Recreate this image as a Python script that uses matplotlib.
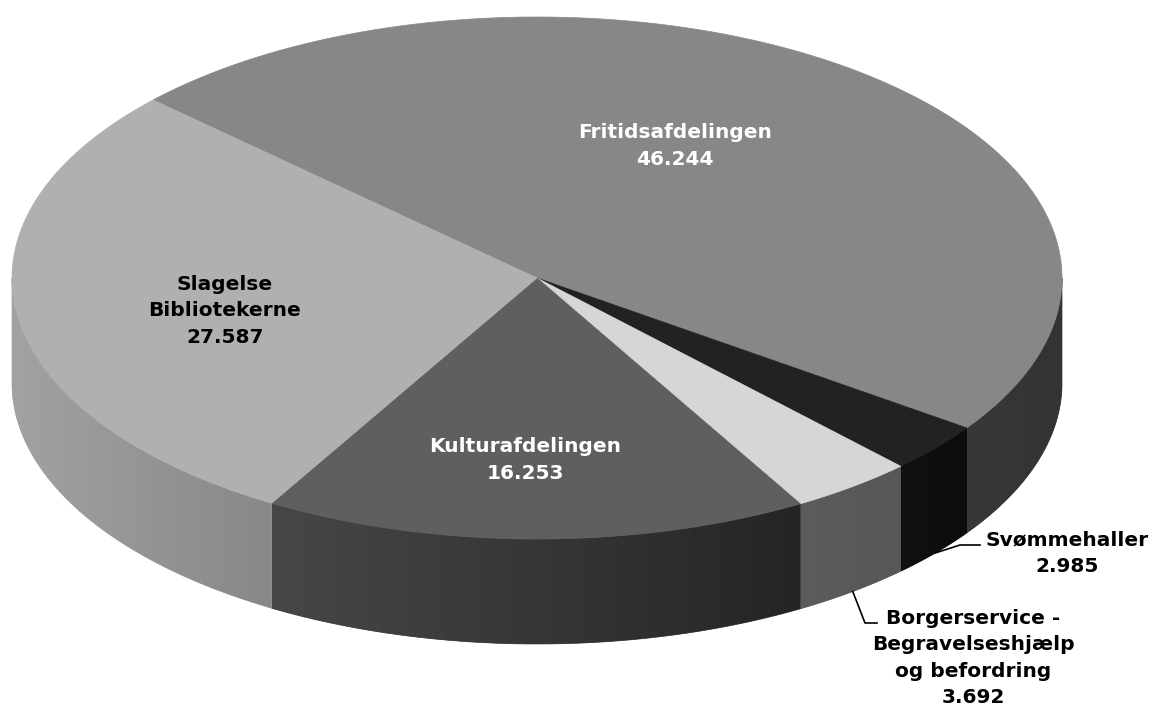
import numpy as np
import matplotlib.pyplot as plt
from matplotlib.patches import Polygon
from matplotlib.colors import LinearSegmentedColormap

# data (in clockwise order, starting at the upper-left edge)
names = ["Fritidsafdelingen", "Svømmehaller",
         "Borgerservice -\nBegravelseshjælp\nog befordring",
         "Kulturafdelingen", "Slagelse\nBibliotekerne"]
values = [46.244, 2.985, 3.692, 16.253, 27.587]
value_labels = ["46.244", "2.985", "3.692", "16.253", "27.587"]

top_colors = ["#878787", "#222222", "#d6d6d6", "#5f5f5f", "#b0b0b0"]
wall_colors = [("#383838", "#333333"), ("#111111", "#0c0c0c"),
               ("#5c5c5c", "#575757"), ("#474747", "#252525"),
               ("#a2a2a2", "#888888")]
text_colors = ["white", "black", "black", "white", "black"]

# layout (pixels)
cx, cy = 537, 278
rx, ry = 525, 261
depth = 105
start_angle = 137.0
label_pos = {0: (675, 146), 3: (525, 460), 4: (225, 311)}
# elbow of the leader line, end of leader, text centre
outside = {1: ((960, 545), 980, (1067, 553)),
           2: ((865, 623), 877, (973, 658))}

fig = plt.figure(figsize=(11.58, 7.06), dpi=100)
ax = fig.add_axes([0, 0, 1, 1])
ax.axis("off")

total = sum(values)
cum = np.concatenate([[0], np.cumsum(values)])
a_start = start_angle - 360 * cum[:-1] / total
a_end = start_angle - 360 * cum[1:] / total


def ell(t, dz=0):
    r = np.radians(t)
    return cx + rx * np.cos(r), cy - ry * np.sin(r) + dz


# side walls (front half only)
for i in range(len(values)):
    hi, lo = a_start[i], a_end[i]
    for k in (-1, 0, 1):
        w0, w1 = -180 + 360 * k, 360 * k
        s0, s1 = max(lo, w0), min(hi, w1)
        if s1 <= s0:
            continue
        t = np.linspace(s0, s1, 120)
        xt, yt = ell(t)
        xb, yb = ell(t[::-1], depth)
        pts = np.column_stack([np.r_[xt, xb], np.r_[yt, yb]])
        poly = Polygon(pts, closed=True, facecolor=wall_colors[i][0],
                       edgecolor=wall_colors[i][0], linewidth=0.5, zorder=1)
        ax.add_patch(poly)
        cmap = LinearSegmentedColormap.from_list("w%d" % i, wall_colors[i])
        grad = np.linspace(0, 1, 256).reshape(1, -1)
        im = ax.imshow(grad, cmap=cmap, aspect="auto", zorder=2,
                       extent=[pts[:, 0].min(), pts[:, 0].max(),
                               pts[:, 1].max(), pts[:, 1].min()])
        im.set_clip_path(poly)

# top face
for i in range(len(values)):
    t = np.linspace(a_start[i], a_end[i], 200)
    x, y = ell(t)
    pts = np.column_stack([np.r_[cx, x], np.r_[cy, y]])
    ax.add_patch(Polygon(pts, closed=True, facecolor=top_colors[i],
                         edgecolor=top_colors[i], linewidth=0.5, zorder=3))

ax.set_xlim(0, 1158)
ax.set_ylim(706, 0)

font = dict(fontsize=14.5, fontweight="bold", family="DejaVu Sans",
            ha="center", va="center", linespacing=1.5, zorder=5)

for i, (x, y) in label_pos.items():
    ax.text(x, y, names[i] + "\n" + value_labels[i], color=text_colors[i],
            **font)

for i, (elbow, x_end, tpos) in outside.items():
    mid = (a_start[i] + a_end[i]) / 2
    x0, y0 = ell(mid, depth)
    ax.plot([x0, elbow[0], x_end], [y0, elbow[1], elbow[1]],
            color="black", linewidth=1.2, zorder=4)
    ax.text(tpos[0], tpos[1], names[i] + "\n" + value_labels[i],
            color=text_colors[i], **font)

fig.savefig("out.png", dpi=100)
